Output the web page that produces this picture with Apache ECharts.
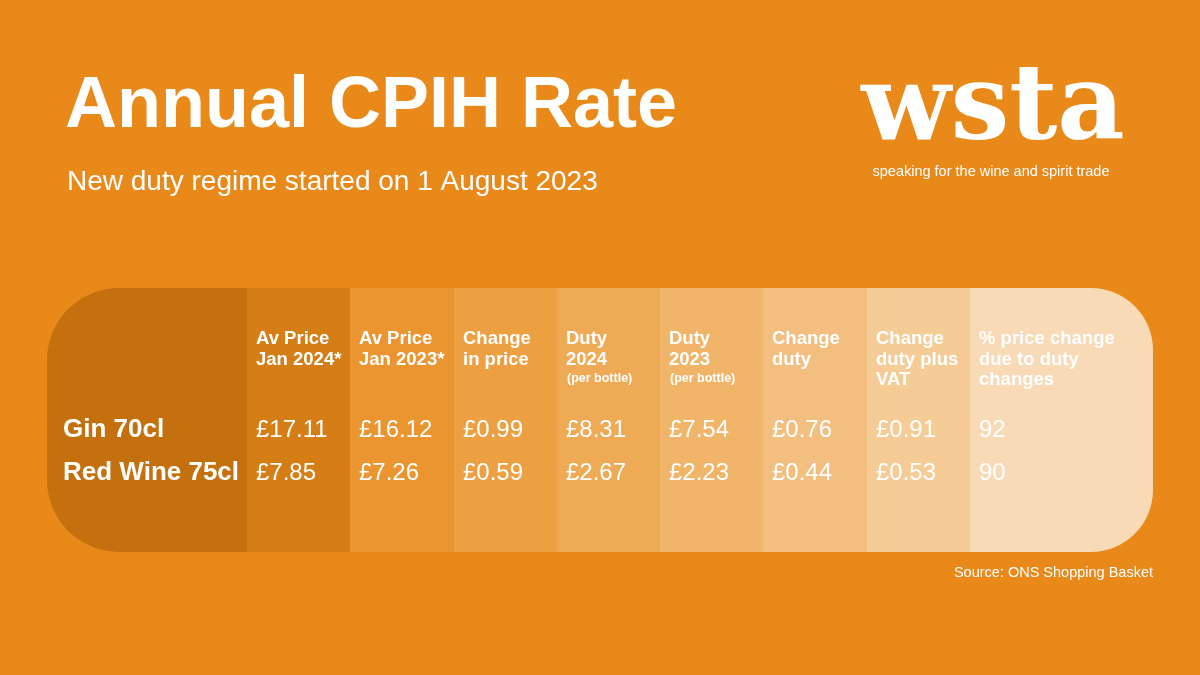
<!DOCTYPE html>
<html><head><meta charset="utf-8">
<script src="https://cdn.jsdelivr.net/npm/echarts@6/dist/echarts.min.js"></script>
<style>html,body{margin:0;padding:0;background:#E8891A}#c{width:1200px;height:675px}</style>
</head><body><div id="c"></div>
<script>
var headers = ["", "Av Price\nJan 2024*", "Av Price\nJan 2023*", "Change\nin price", "Duty\n2024", "Duty\n2023", "Change\nduty", "Change\nduty plus\nVAT", "% price change\ndue to duty\nchanges"];
var subHeaders = ["", "", "", "", "(per bottle)", "(per bottle)", "", "", ""];
var rowLabels = ["Gin 70cl", "Red Wine 75cl"];
var gin = ["£17.11", "£16.12", "£0.99", "£8.31", "£7.54", "£0.76", "£0.91", "92"];
var redWine = ["£7.85", "£7.26", "£0.59", "£2.67", "£2.23", "£0.44", "£0.53", "90"];
var colColors = ["#C4700F", "#D57E16", "#EB9530", "#EDA042", "#EFAA56", "#F1B569", "#F3BF80", "#F5CB96", "#F8DAB6"];
var colEdges = [47, 247, 350, 454, 557, 660, 763, 867, 970, 1153];

(function(){
var chart = echarts.init(document.getElementById('c'));
var els = [];
var tableTop = 288, h = 264;
for (var i = 0; i < 9; i++) {
  var r = i === 0 ? [72, 0, 0, 72] : (i === 8 ? [0, 62, 62, 0] : 0);
  els.push({type:'rect', shape:{x:colEdges[i], y:tableTop, width:colEdges[i+1]-colEdges[i]+(i<8?0.5:0), height:h, r:r}, style:{fill:colColors[i]}});
  if (headers[i]) els.push({type:'text', x:colEdges[i]+9, y:329, style:{text:headers[i], fill:'#fff', font:'bold 18.5px "Liberation Sans", Arial, sans-serif', lineHeight:20.5}});
  if (subHeaders[i]) els.push({type:'text', x:colEdges[i]+10, y:372, style:{text:subHeaders[i], fill:'#fff', font:'bold 12.5px "Liberation Sans", Arial, sans-serif'}});
}
var rows = [gin, redWine], ys = [430, 473];
for (var k = 0; k < 2; k++) {
  els.push({type:'text', x:63, y:ys[k], style:{text:rowLabels[k], fill:'#fff', font:'bold 26px "Liberation Sans", Arial, sans-serif', verticalAlign:'middle'}});
  for (var j = 0; j < 8; j++) {
    els.push({type:'text', x:colEdges[j+1]+9, y:ys[k], style:{text:rows[k][j], fill:'#fff', font:'24px "Liberation Sans", Arial, sans-serif', verticalAlign:'middle'}});
  }
}
els.push({type:'text', x:65, y:107, style:{text:'Annual CPIH Rate', fill:'#fff', font:'bold 72px "Liberation Sans", Arial, sans-serif', verticalAlign:'middle'}});
els.push({type:'text', x:67, y:182, style:{text:'New duty regime started on 1 August 2023', fill:'#fff', font:'28px "Liberation Sans", Arial, sans-serif', verticalAlign:'middle'}});
els.push({type:'text', x:993, y:112, style:{text:'wsta', fill:'#fff', font:'bold 104px "DejaVu Serif", serif', align:'center', verticalAlign:'middle'}});
els.push({type:'text', x:991, y:172, style:{text:'speaking for the wine and spirit trade', fill:'#fff', font:'14.5px "Liberation Sans", Arial, sans-serif', align:'center', verticalAlign:'middle'}});
els.push({type:'text', x:1153, y:573, style:{text:'Source: ONS Shopping Basket', fill:'#fff', font:'14.5px "Liberation Sans", Arial, sans-serif', align:'right', verticalAlign:'middle'}});
chart.setOption({backgroundColor:'#E8891A', animation:false, graphic:{elements:els}});
})();
</script></body></html>
